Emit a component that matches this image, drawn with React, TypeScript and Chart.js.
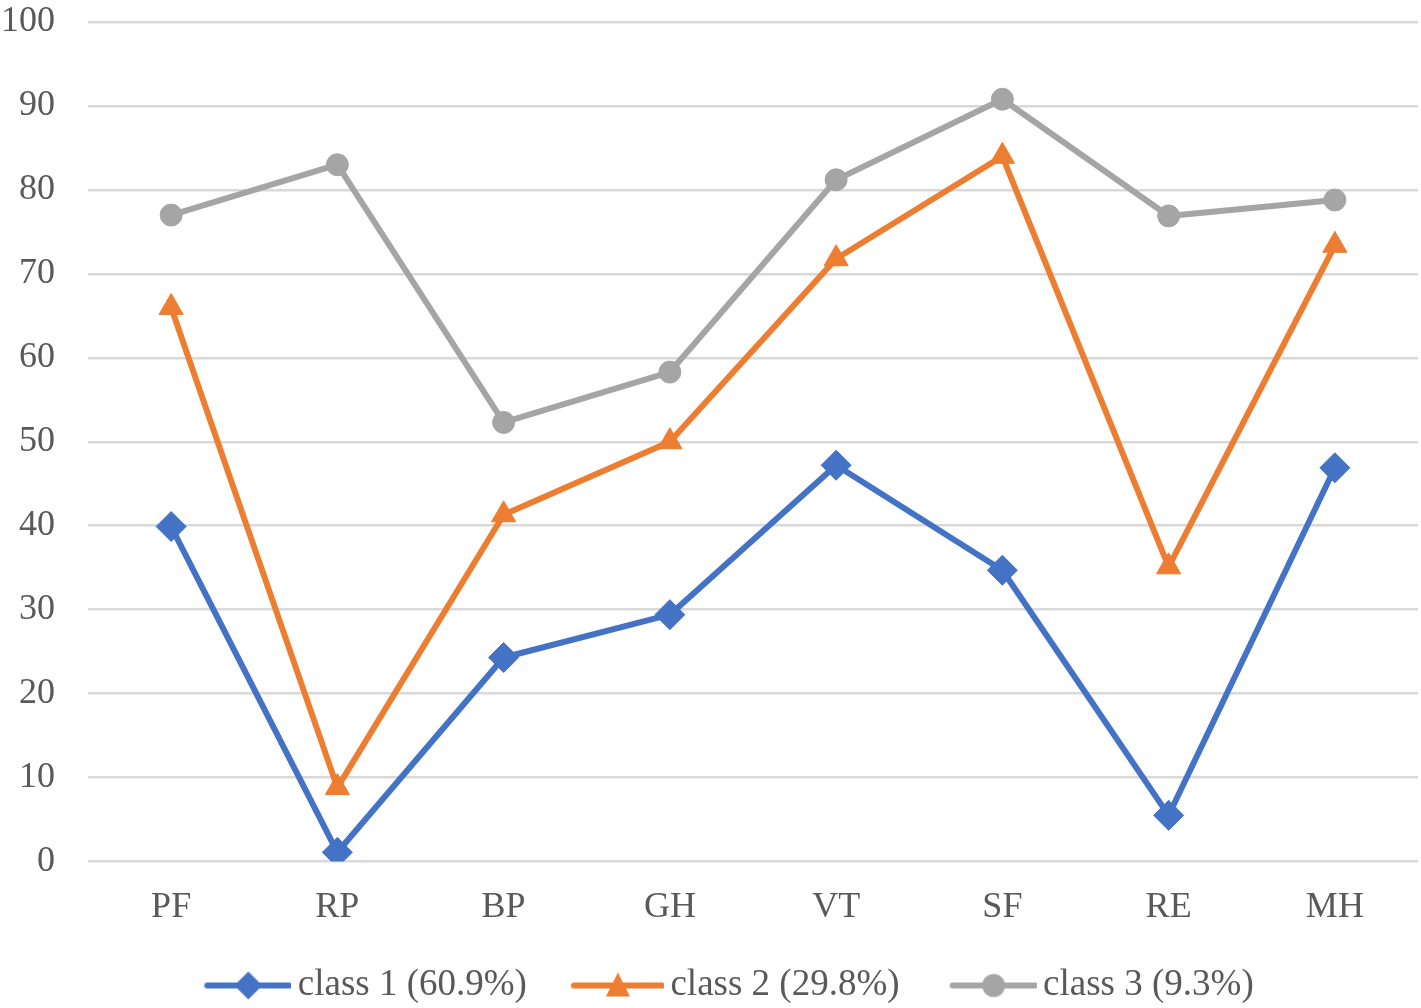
import { useEffect, useRef } from "react";
import { Chart, registerables } from "chart.js";

Chart.register(...registerables);

const categories = ["PF", "RP", "BP", "GH", "VT", "SF", "RE", "MH"];
const class1 = [39.9, 1.1, 24.3, 29.4, 47.2, 34.7, 5.5, 46.9];
const class2 = [66.0, 8.8, 41.3, 50.0, 71.8, 84.0, 35.1, 73.4];
const class3 = [77.0, 83.0, 52.3, 58.3, 81.2, 90.8, 76.9, 78.8];
const seriesNames = ["class 1 (60.9%)", "class 2 (29.8%)", "class 3 (9.3%)"];
const yMin = 0;
const yMax = 100;
const yStep = 10;

const colors = ["#4472C4", "#ED7D31", "#A5A5A5"];
const textColor = "#595959";
const fontFamily = "'Liberation Serif', 'Times New Roman', serif";

// legend symbol: line with the marker in the middle
// the box is 115 wide, the picture 139 (sticks out 12px each side)
const ICON_W = 139;
const ICON_H = 32;
function legendIcon(color: string, shape: string, shift: number) {
  const c = document.createElement("canvas");
  c.width = ICON_W;
  c.height = ICON_H;
  const ctx = c.getContext("2d")!;
  const x0 = 55 - shift;
  const x1 = 137;
  const cx = (x0 + x1) / 2;
  const cy = ICON_H / 2;
  ctx.strokeStyle = color;
  ctx.fillStyle = color;
  ctx.lineWidth = 6;
  ctx.lineCap = "round";
  ctx.beginPath();
  ctx.moveTo(x0, cy);
  ctx.lineTo(x1, cy);
  ctx.stroke();
  ctx.beginPath();
  if (shape === "rectRot") {
    ctx.moveTo(cx, cy - 14);
    ctx.lineTo(cx + 14, cy);
    ctx.lineTo(cx, cy + 14);
    ctx.lineTo(cx - 14, cy);
    ctx.closePath();
  } else if (shape === "triangle") {
    ctx.moveTo(cx, cy - 13);
    ctx.lineTo(cx + 12, cy + 11);
    ctx.lineTo(cx - 12, cy + 11);
    ctx.closePath();
  } else {
    ctx.arc(cx, cy, 11.5, 0, Math.PI * 2);
  }
  ctx.fill();
  return c;
}

export default function App() {
  const canvasRef = useRef<HTMLCanvasElement | null>(null);

  useEffect(() => {
    document.body.style.margin = "0";
    if (canvasRef.current == null) return;

    const shapes = ["rectRot", "triangle", "circle"];
    const radii = [15, 14, 11];
    const values = [class1, class2, class3];
    const icons = shapes.map((s, i) => legendIcon(colors[i], s, i === 1 ? 6 : 0));

    const chart = new Chart(canvasRef.current, {
      type: "line",
      data: {
        labels: categories,
        datasets: values.map((v, i) => ({
          label: seriesNames[i],
          data: v,
          borderColor: colors[i],
          backgroundColor: colors[i],
          borderWidth: 6,
          borderJoinStyle: "round",
          pointStyle: shapes[i],
          pointRadius: radii[i],
          pointHoverRadius: radii[i],
          pointBorderWidth: 1,
          pointBackgroundColor: colors[i],
          pointBorderColor: colors[i],
          tension: 0,
          order: 3 - i,
        })),
      },
      options: {
        responsive: false,
        animation: false,
        layout: {
          autoPadding: false,
          padding: { top: 22, right: 3, left: 0, bottom: -6 },
        },
        plugins: {
          tooltip: { enabled: false },
          legend: {
            position: "bottom",
            labels: {
              color: textColor,
              font: { family: fontFamily, size: 37 },
              usePointStyle: true,
              pointStyleWidth: 115,
              padding: 10,
              generateLabels: (c: any) =>
                Chart.defaults.plugins.legend.labels
                  .generateLabels(c)
                  .sort((a: any, b: any) => a.datasetIndex - b.datasetIndex)
                  .map((l: any) => ({ ...l, pointStyle: icons[l.datasetIndex] })),
            },
          },
        },
        scales: {
          x: {
            offset: true,
            grid: {
              display: true,
              color: "rgba(0,0,0,0)",
              drawTicks: true,
              tickLength: 24,
              tickColor: "rgba(0,0,0,0)",
            },
            border: { display: false },
            ticks: {
              color: textColor,
              font: { family: fontFamily, size: 36 },
              padding: 0,
            },
            afterFit: (s: any) => {
              s.height = 95.5;
              s.paddingLeft = 0;
              s.paddingRight = 0;
            },
          },
          y: {
            min: yMin,
            max: yMax,
            grid: {
              color: "#d9d9d9",
              lineWidth: 2.5,
              drawTicks: true,
              tickLength: 33,
              tickColor: "rgba(0,0,0,0)",
            },
            border: { display: false },
            ticks: {
              stepSize: yStep,
              padding: 0,
              color: textColor,
              font: { family: fontFamily, size: 36 },
            },
            afterFit: (s: any) => {
              s.width = 88;
            },
          },
        },
      },
    });

    return () => {
      chart.destroy();
    };
  }, []);

  return (
    <div style={{ width: 1421, height: 1008, background: "#fff" }}>
      <canvas ref={canvasRef} width={1421} height={1008}></canvas>
    </div>
  );
}
